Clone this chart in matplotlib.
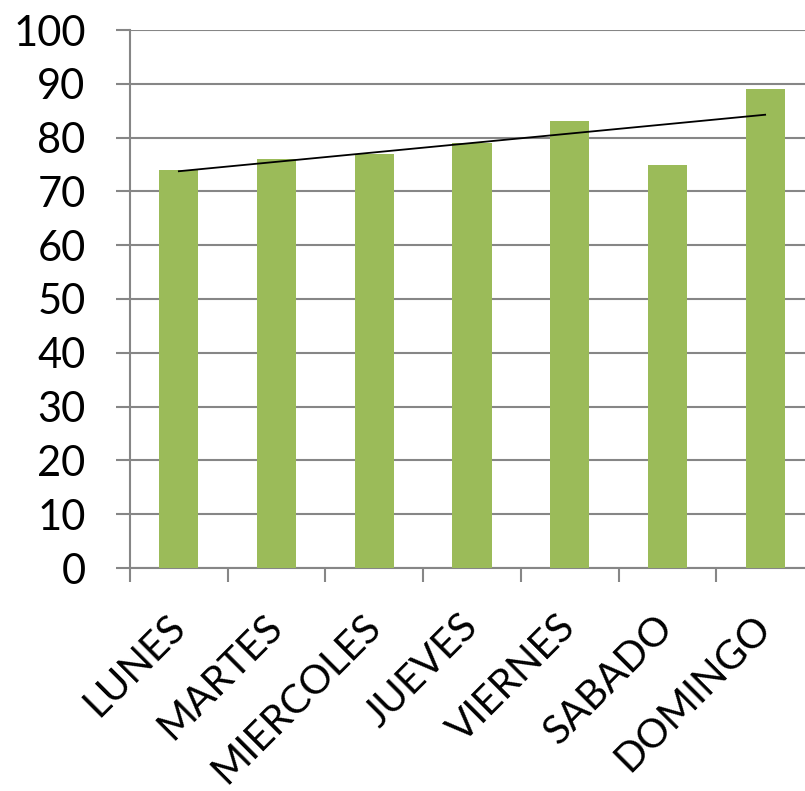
import numpy as np
import matplotlib
matplotlib.use("Agg")
import matplotlib.pyplot as plt

# Datos del grafico
dias = ["LUNES", "MARTES", "MIERCOLES", "JUEVES", "VIERNES", "SABADO", "DOMINGO"]
valores = [74, 76, 77, 79, 83, 75, 89]
y_ticks = [0, 10, 20, 30, 40, 50, 60, 70, 80, 90, 100]

plt.rcParams['font.family'] = ['Lato', 'DejaVu Sans']

fig = plt.figure(figsize=(8.05, 7.91), dpi=100)
ax = fig.add_axes([130 / 805, 1 - 568 / 791, 684 / 805, 538 / 791])

x = np.arange(len(dias))
gris = "#868686"

ax.bar(x, valores, width=0.40, color="#9BBB59", zorder=3)

# Linea de tendencia lineal
m, b = np.polyfit(x, valores, 1)
ax.plot(x, m * x + b, color="black", linewidth=1.3, zorder=4)

ax.set_ylim(0, 100)
ax.set_xlim(-0.5, len(dias) - 0.5)
ax.set_yticks(y_ticks)
ax.yaxis.grid(True, color=gris, linewidth=1.5, zorder=0)

ax.set_xticks(x)
ax.set_xticklabels(dias, rotation=45, ha="right", va="center", rotation_mode="anchor")
ax.set_xticks(np.arange(-0.5, len(dias) + 0.5, 1), minor=True)
ax.tick_params(axis="x", which="major", length=0, pad=38, labelsize=29)
ax.tick_params(axis="x", which="minor", length=10, width=1.5, color=gris)
ax.tick_params(axis="y", length=10, width=1.5, color=gris, pad=22, labelsize=30)

for s in ["top", "right"]:
    ax.spines[s].set_visible(False)
for s in ["left", "bottom"]:
    ax.spines[s].set_color(gris)
    ax.spines[s].set_linewidth(1.5)

fig.savefig("out.png", dpi=100)
